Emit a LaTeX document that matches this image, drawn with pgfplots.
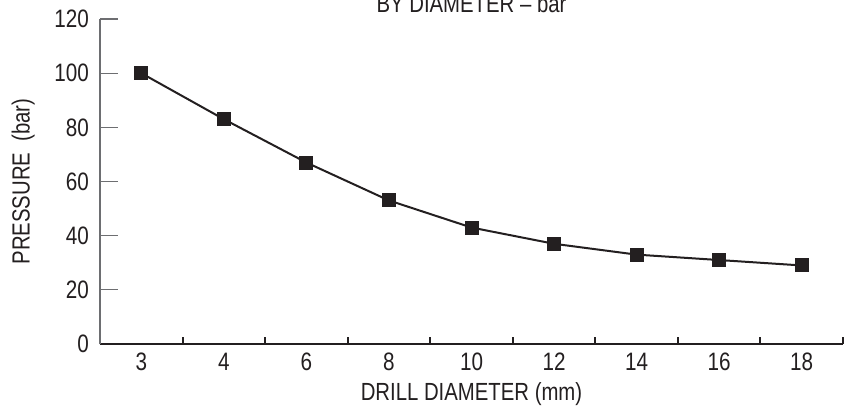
\documentclass[border=0pt]{standalone}
\usepackage{fontspec}
\setmainfont{Liberation Sans}[FakeStretch=0.82]
\usepackage{pgfplots}
\pgfplotsset{compat=1.18}
\definecolor{ink}{HTML}{231F20}
\definecolor{axgray}{HTML}{6D6E71}
\begin{document}
\begin{tikzpicture}
\begin{axis}[
  scale only axis,
  width=371.5pt, height=162.5pt,
  xmin=-0.5, xmax=8.5, ymin=0, ymax=120,
  axis x line=bottom, axis y line=left,
  x axis line style={-, draw=ink, line width=1pt},
  y axis line style={-, draw=axgray, line width=0.6pt},
  xtick={0,...,8},
  xticklabels={3,4,6,8,10,12,14,16,18},
  major x tick style={draw=none},
  minor xtick={-0.5,0.5,...,8.5},
  minor x tick style={draw=ink, line width=1pt},
  minor tick length=3.5pt,
  ytick={0,20,...,120},
  y tick style={draw=axgray, line width=0.6pt},
  major tick length=9pt,
  tick align=inside,
  /pgf/number format/assume math mode=true,
  tick label style={font=\fontsize{12.6}{14}\selectfont, text=ink},
  yticklabel style={xshift=-2pt},
  xticklabel style={yshift=-1pt},
  xlabel={DRILL DIAMETER (mm)},
  ylabel={PRESSURE\ \ (bar)},
  label style={font=\fontsize{12.4}{14}\selectfont, text=ink},
  xlabel style={yshift=1pt},
  ylabel style={yshift=3pt},
  clip=false,
]
\addplot[ink, line width=1pt, mark=square*, mark size=3pt, mark options={fill=ink, draw=ink}]
  coordinates {(0,100) (1,83) (2,67) (3,53) (4,43) (5,37) (6,33) (7,31) (8,29)};
\coordinate (BL) at (rel axis cs:0,0);
\coordinate (TR) at (rel axis cs:1,1);
\node[anchor=base, font=\fontsize{12.4}{14}\selectfont, text=ink] at ([yshift=3pt]rel axis cs:0.5,1) {BY DIAMETER -- bar};
\end{axis}
\pgfresetboundingbox
\path[use as bounding box] ([xshift=-50pt,yshift=-30.5pt]BL) rectangle ([xshift=1pt,yshift=9.5pt]TR);
\end{tikzpicture}
\end{document}
